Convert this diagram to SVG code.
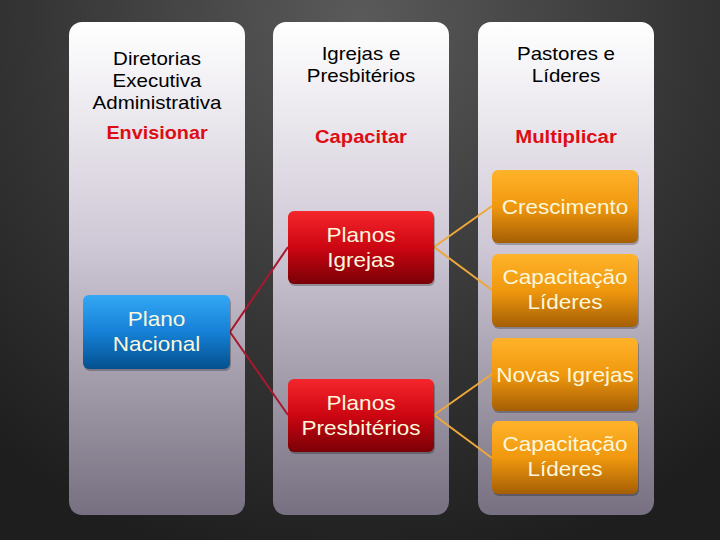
<svg xmlns="http://www.w3.org/2000/svg" width="720" height="540" viewBox="0 0 720 540" font-family="Arial, 'Liberation Sans', sans-serif">
<defs>
<radialGradient id="bg" cx="360" cy="20" r="560" gradientUnits="userSpaceOnUse">
<stop offset="0" stop-color="#5a5a5a"/>
<stop offset="0.6" stop-color="#343434"/>
<stop offset="1" stop-color="#1e1e1e"/>
</radialGradient>
<linearGradient id="col" x1="0" y1="0" x2="0" y2="1">
<stop offset="0" stop-color="#ffffff"/>
<stop offset="0.45" stop-color="#cfc8d6"/>
<stop offset="1" stop-color="#767080"/>
</linearGradient>
<linearGradient id="blue" x1="0" y1="0" x2="0" y2="1">
<stop offset="0" stop-color="#34a8f4"/>
<stop offset="0.5" stop-color="#1680d6"/>
<stop offset="1" stop-color="#03508e"/>
</linearGradient>
<linearGradient id="red" x1="0" y1="0" x2="0" y2="1">
<stop offset="0" stop-color="#f5262c"/>
<stop offset="0.5" stop-color="#cc0612"/>
<stop offset="1" stop-color="#7a0006"/>
</linearGradient>
<linearGradient id="orange" x1="0" y1="0" x2="0" y2="1">
<stop offset="0" stop-color="#ffb32a"/>
<stop offset="0.5" stop-color="#f0980e"/>
<stop offset="1" stop-color="#a55e04"/>
</linearGradient>
</defs>
<style>
text{font-family:Arial,"Liberation Sans",sans-serif;text-anchor:middle;}
.col{fill:url(#col);}
.hd{font-size:18px;fill:#000;}
.verb{font-size:18px;font-weight:bold;fill:#dd0d14;}
.nt{font-size:20.5px;fill:#fbf7dc;}
.shadow{fill:#000;opacity:0.25;}
.red-line{stroke:#a8182e;stroke-width:2;fill:none;}
.or-line{stroke:#eda73a;stroke-width:2;fill:none;}
</style>
<rect width="720" height="540" fill="url(#bg)"/>
<g id="column1">
<rect class="col" x="69" y="22" width="176" height="493" rx="13"/>
<g transform="translate(157 0) scale(1.14 1)">
<text class="hd" x="0" y="65">Diretorias</text>
<text class="hd" x="0" y="87">Executiva</text>
<text class="hd" x="0" y="109">Administrativa</text>
</g>
<g transform="translate(157 0) scale(1.1 1)"><text class="verb" x="0" y="139">Envisionar</text></g>
</g>
<g id="column2">
<rect class="col" x="273" y="22" width="176" height="493" rx="13"/>
<g transform="translate(361 0) scale(1.14 1)">
<text class="hd" x="0" y="60">Igrejas e</text>
<text class="hd" x="0" y="82">Presbitérios</text>
</g>
<g transform="translate(361 0) scale(1.12 1)"><text class="verb" x="0" y="143">Capacitar</text></g>
</g>
<g id="column3">
<rect class="col" x="478" y="22" width="176" height="493" rx="13"/>
<g transform="translate(566 0) scale(1.14 1)">
<text class="hd" x="0" y="60">Pastores e</text>
<text class="hd" x="0" y="82">Líderes</text>
</g>
<g transform="translate(566 0) scale(1.13 1)"><text class="verb" x="0" y="143">Multiplicar</text></g>
</g>
<g id="connectors">
<polyline class="red-line" points="288,247 230,332 288,415"/>
<polyline class="or-line" points="492,206 434,247 492,290"/>
<polyline class="or-line" points="492,374 434,415 492,458"/>
</g>
<g id="plano-nacional">
<rect class="shadow" x="84" y="297" width="147" height="74" rx="6"/>
<rect x="83" y="295" width="147" height="74" rx="6" fill="url(#blue)"/>
<g transform="translate(156.5 0) scale(1.1 1)">
<text class="nt" x="0" y="326">Plano</text>
<text class="nt" x="0" y="351">Nacional</text>
</g>
</g>
<g id="planos-igrejas">
<rect class="shadow" x="289" y="213" width="146" height="73" rx="6"/>
<rect x="288" y="211" width="146" height="73" rx="6" fill="url(#red)"/>
<g transform="translate(361 0) scale(1.1 1)">
<text class="nt" x="0" y="242">Planos</text>
<text class="nt" x="0" y="267">Igrejas</text>
</g>
</g>
<g id="planos-presbiterios">
<rect class="shadow" x="289" y="381" width="146" height="73" rx="6"/>
<rect x="288" y="379" width="146" height="73" rx="6" fill="url(#red)"/>
<g transform="translate(361 0) scale(1.1 1)">
<text class="nt" x="0" y="410">Planos</text>
<text class="nt" x="0" y="435">Presbitérios</text>
</g>
</g>
<g id="crescimento">
<rect class="shadow" x="493" y="172" width="146" height="73" rx="6"/>
<rect x="492" y="170" width="146" height="73" rx="6" fill="url(#orange)"/>
<g transform="translate(565 0) scale(1.1 1)">
<text class="nt" x="0" y="214">Crescimento</text>
</g>
</g>
<g id="capacitacao-lideres-1">
<rect class="shadow" x="493" y="256" width="146" height="73" rx="6"/>
<rect x="492" y="254" width="146" height="73" rx="6" fill="url(#orange)"/>
<g transform="translate(565 0) scale(1.1 1)">
<text class="nt" x="0" y="284">Capacitação</text>
<text class="nt" x="0" y="309">Líderes</text>
</g>
</g>
<g id="novas-igrejas">
<rect class="shadow" x="493" y="340" width="146" height="73" rx="6"/>
<rect x="492" y="338" width="146" height="73" rx="6" fill="url(#orange)"/>
<g transform="translate(565 0) scale(1.1 1)">
<text class="nt" x="0" y="382">Novas Igrejas</text>
</g>
</g>
<g id="capacitacao-lideres-2">
<rect class="shadow" x="493" y="423" width="146" height="73" rx="6"/>
<rect x="492" y="421" width="146" height="73" rx="6" fill="url(#orange)"/>
<g transform="translate(565 0) scale(1.1 1)">
<text class="nt" x="0" y="451">Capacitação</text>
<text class="nt" x="0" y="476">Líderes</text>
</g>
</g>
</svg>
